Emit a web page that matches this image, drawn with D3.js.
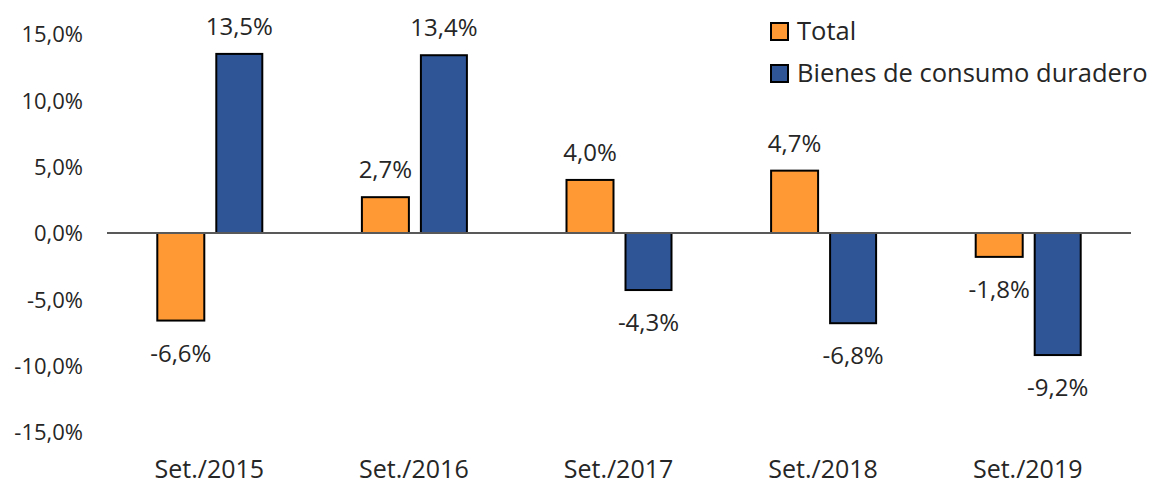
<!DOCTYPE html>
<html>
<head>
<meta charset="utf-8">
<script src="https://cdn.jsdelivr.net/npm/d3@7"></script>
<style>
  body { margin: 0; background: #fff; }
  text { font-family: "Open Sans", sans-serif; fill: #262626; }
</style>
</head>
<body>
<script>
// data
const categories = ['Set./2015', 'Set./2016', 'Set./2017', 'Set./2018', 'Set./2019'];
const seriesNames = ['Total', 'Bienes de consumo duradero'];
const totalValues = [-6.6, 2.7, 4.0, 4.7, -1.8];
const durablesValues = [13.5, 13.4, -4.3, -6.8, -9.2];
const yTicks = [-15, -10, -5, 0, 5, 10, 15];
const colors = ['#FF9933', '#2F5597'];

const width = 1155, height = 484;
const svg = d3.select('body').append('svg')
  .attr('width', width)
  .attr('height', height);

// scales
const x = d3.scaleBand()
  .domain(categories)
  .range([107, 1130]);

const y = d3.scaleLinear()
  .domain([-15, 15])
  .range([432, 34]);

// comma decimal, plain hyphen for negatives
const fmt = v => (v < 0 ? '-' : '') + Math.abs(v).toFixed(1).replace('.', ',') + '%';

// y axis labels (no line)
const yAxis = d3.axisLeft(y)
  .tickValues(yTicks)
  .tickFormat(fmt)
  .tickSize(0)
  .tickPadding(0);

const gy = svg.append('g')
  .attr('transform', 'translate(83,0)')
  .call(yAxis);
gy.select('.domain').remove();
gy.selectAll('text')
  .attr('font-size', '22px')
  .attr('dy', '0.36em')
  .style('font-family', '"Open Sans", sans-serif')
  .attr('fill', '#262626');

// category labels
const gx = svg.append('g')
  .attr('transform', 'translate(0,478)')
  .call(d3.axisBottom(x).tickSize(0).tickPadding(0));
gx.select('.domain').remove();
gx.selectAll('text')
  .attr('font-size', '25px')
  .attr('dy', 0)
  .style('font-family', '"Open Sans", sans-serif')
  .attr('fill', '#262626');

// bars
const xs = d3.scaleOrdinal().domain([0, 1]).range([-52, 7]);
const barW = [47, 46];
const series = [totalValues, durablesValues];

series.forEach((vals, si) => {
  const g = svg.append('g');
  g.selectAll('rect')
    .data(vals)
    .enter()
    .append('rect')
    .attr('x', (d, i) => x(categories[i]) + x.bandwidth() / 2 + xs(si))
    .attr('y', d => y(Math.max(0, d)))
    .attr('width', barW[si])
    .attr('height', d => Math.abs(y(d) - y(0)))
    .attr('fill', colors[si])
    .attr('stroke', '#000')
    .attr('stroke-width', 2);

  g.selectAll('text')
    .data(vals)
    .enter()
    .append('text')
    .attr('x', (d, i) => x(categories[i]) + x.bandwidth() / 2 + xs(si) + barW[si] / 2)
    .attr('y', d => d >= 0 ? y(d) - 19 : y(d) + 41)
    .attr('text-anchor', 'middle')
    .attr('font-size', '24px')
    .text(fmt);
});

// zero line
svg.append('line')
  .attr('x1', 107)
  .attr('x2', 1131)
  .attr('y1', y(0))
  .attr('y2', y(0))
  .attr('stroke', '#595959')
  .attr('stroke-width', 2);

// legend
const legend = svg.append('g')
  .attr('transform', 'translate(771,23)');

seriesNames.forEach((name, i) => {
  const row = legend.append('g')
    .attr('transform', `translate(0, ${i * 42})`);
  row.append('rect')
    .attr('width', 17)
    .attr('height', 17)
    .attr('fill', colors[i])
    .attr('stroke', '#000')
    .attr('stroke-width', 2);
  row.append('text')
    .attr('x', 26)
    .attr('y', 17)
    .attr('font-size', '25.5px')
    .text(name);
});
</script>
</body>
</html>
